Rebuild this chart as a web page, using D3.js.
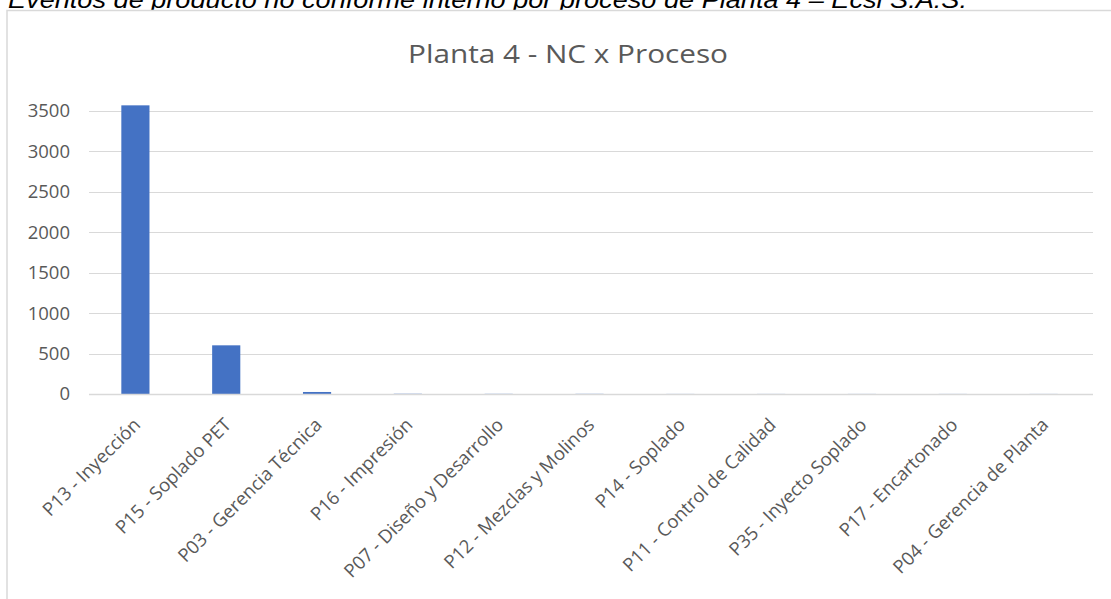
<!DOCTYPE html>
<html><head><meta charset="utf-8">
<script src="https://cdn.jsdelivr.net/npm/d3@7"></script>
<style>body{margin:0;background:#fff;}svg{display:block;}</style>
</head><body>
<svg id="c" width="1111" height="599"></svg>
<script>
const categories = ["P13 - Inyección","P15 - Soplado PET","P03 - Gerencia Técnica","P16 - Impresión","P07 - Diseño y Desarrollo","P12 - Mezclas y Molinos","P14 - Soplado","P11 - Control de Calidad","P35 - Inyecto Soplado","P17 - Encartonado","P04 - Gerencia de Planta"];
const values = [3570, 602, 25, 3, 2, 2, 1, 1, 1, 1, 1];
const yTicks = [0, 500, 1000, 1500, 2000, 2500, 3000, 3500];
const chartTitle = "Planta 4 - NC x Proceso";
const caption = "Eventos de producto no conforme interno por proceso de Planta 4 – Ecsi S.A.S.";

const svg = d3.select("#c");
const font = "'Open Sans', 'Noto Sans', sans-serif";

// caption (clipped at top, as in the reference)
svg.append("text").attr("x", 8).attr("y", 8)
  .attr("font-family", "'Liberation Sans', Arial, sans-serif").attr("font-style", "italic")
  .attr("font-size", 23).attr("fill", "#000")
  .attr("textLength", 959).attr("lengthAdjust", "spacingAndGlyphs")
  .text(caption);

// chart border
svg.append("rect").attr("x", 7).attr("y", 10.5).attr("width", 1120).attr("height", 600)
  .attr("fill", "#fff").attr("stroke", "#d9d9d9").attr("stroke-width", 1.5);

const x = d3.scaleBand().domain(categories).range([90, 1089]).paddingInner(0.69).paddingOuter(0.345);
const y = d3.scaleLinear().domain([0, 3500]).range([394, 111]);

// gridlines
svg.append("g").selectAll("line").data(yTicks.filter(d => d > 0)).join("line")
  .attr("x1", 89).attr("x2", 1093).attr("y1", d => Math.round(y(d)) + 0.5).attr("y2", d => Math.round(y(d)) + 0.5)
  .attr("stroke", "#d9d9d9").attr("stroke-width", 1.2);

// bars
svg.append("g").selectAll("rect").data(values).join("rect")
  .attr("x", (d, i) => x(categories[i])).attr("width", x.bandwidth())
  .attr("y", d => y(d)).attr("height", d => y(0) - y(d))
  .attr("fill", "#4472c4");

// x axis line
svg.append("line").attr("x1", 89).attr("x2", 1093).attr("y1", 394.5).attr("y2", 394.5)
  .attr("stroke", "#d9d9d9").attr("stroke-width", 1.5);

// y axis labels
const yAxis = d3.axisLeft(y).tickValues(yTicks).tickSize(0).tickPadding(0).tickFormat(d3.format("d"));
const ya = svg.append("g").attr("transform", "translate(70,0)").call(yAxis);
ya.select(".domain").remove();
ya.selectAll("text").attr("font-family", font).attr("font-size", 18.5).attr("fill", "#595959");

// x axis labels
const xAxis = d3.axisBottom(x).tickSize(0).tickPadding(0);
const xa = svg.append("g").attr("transform", "translate(0,394)").call(xAxis);
xa.select(".domain").remove();
xa.selectAll("text")
  .attr("font-family", font).attr("font-size", 18.5).attr("fill", "#595959")
  .attr("text-anchor", "end").attr("dy", null).attr("y", 0)
  .attr("transform", "translate(6,32) rotate(-45)");

// title
svg.append("text").attr("x", 568).attr("y", 63).attr("text-anchor", "middle")
  .attr("font-family", font).attr("font-size", 25).attr("fill", "#595959")
  .attr("textLength", 320).attr("lengthAdjust", "spacingAndGlyphs")
  .text(chartTitle);
</script>
</body></html>
